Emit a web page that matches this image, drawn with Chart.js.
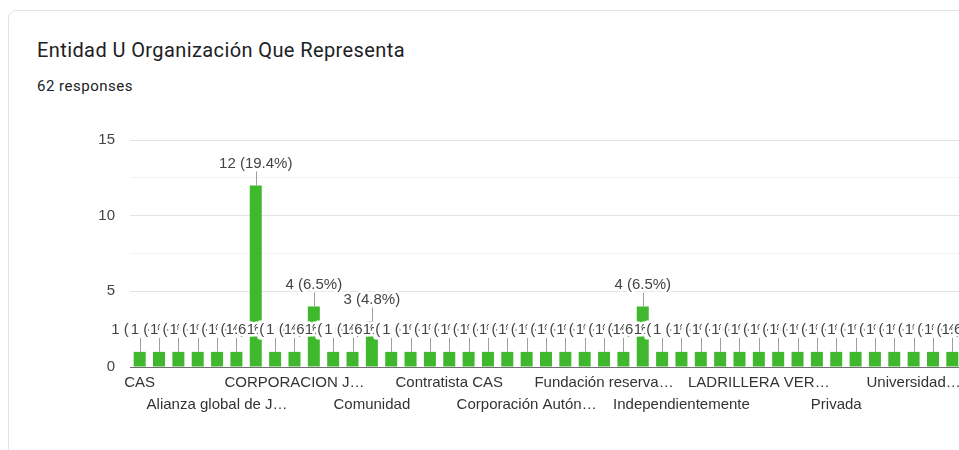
<!DOCTYPE html>
<html>
<head>
<meta charset="utf-8">
<script src="https://cdn.jsdelivr.net/npm/chart.js@4.4.0/dist/chart.umd.min.js"></script>
<style>
  html, body { margin: 0; padding: 0; width: 959px; height: 450px; overflow: hidden; background: #fff; }
  #card { position: absolute; left: 8px; top: 10px; width: 1000px; height: 500px; border: 1px solid #e3e3e3; border-radius: 8px; box-sizing: border-box; }
  #title { position: absolute; left: 37px; top: 38px; line-height: 24px; font-family: Roboto, "Noto Sans", sans-serif; font-size: 20px; letter-spacing: 0.4px; color: #202124; white-space: nowrap; }
  #sub { position: absolute; left: 37px; top: 76px; line-height: 20px; font-family: Roboto, "Noto Sans", sans-serif; font-size: 15px; letter-spacing: 0.5px; color: #202124; white-space: nowrap; }
  #wrap { position: absolute; left: 0; top: 0; width: 962px; height: 450px; }
</style>
</head>
<body>
<div id="card"></div>
<div id="title">Entidad U Organización Que Representa</div>
<div id="sub">62 responses</div>
<div id="wrap"><canvas id="c" width="962" height="450"></canvas></div>
<script>
// Category labels (only every 4th label is readable in the reference; others left blank)
const categories = [
  'CAS', '', '', '',
  'Alianza global de J…', '', '', '',
  'CORPORACION J…', '', '', '',
  'Comunidad', '', '', '',
  'Contratista CAS', '', '', '',
  'Corporación Autón…', '', '', '',
  'Fundación reserva…', '', '', '',
  'Independientemente', '', '', '',
  'LADRILLERA VER…', '', '', '',
  'Privada', '', '', '',
  'Universidad…', '', ''
];
// Response counts per category
const counts = [
  1, 1, 1, 1, 1, 1, 12, 1, 1, 4,
  1, 1, 3, 1, 1, 1, 1, 1, 1, 1,
  1, 1, 1, 1, 1, 1, 4, 1, 1, 1,
  1, 1, 1, 1, 1, 1, 1, 1, 1, 1,
  1, 1, 1
];
const totalResponses = 62;
const yTickValues = [0, 5, 10, 15];

const LABEL_FONT = '"Liberation Sans", Arial, sans-serif';

const annotations = {
  id: 'annotations',
  afterDatasetsDraw(chart) {
    const ctx = chart.ctx;
    const meta = chart.getDatasetMeta(0);
    ctx.save();
    ctx.strokeStyle = '#9e9e9e';
    ctx.lineWidth = 1;
    meta.data.forEach((bar) => {
      const x = Math.round(bar.x) + 0.5;
      ctx.beginPath();
      ctx.moveTo(x, bar.y);
      ctx.lineTo(x, bar.y - 14);
      ctx.stroke();
    });
    ctx.font = '15px ' + LABEL_FONT;
    ctx.textAlign = 'center';
    ctx.textBaseline = 'middle';
    ctx.lineJoin = 'round';
    meta.data.forEach((bar, i) => {
      const v = counts[i];
      const txt = v + ' (' + (v / totalResponses * 100).toFixed(1) + '%)';
      const y = bar.y - 22;
      ctx.strokeStyle = '#fff';
      ctx.lineWidth = 5;
      ctx.strokeText(txt, bar.x, y);
      ctx.fillStyle = '#444';
      ctx.fillText(txt, bar.x, y);
    });
    ctx.restore();
  }
};

new Chart(document.getElementById('c'), {
  type: 'bar',
  data: {
    labels: categories,
    datasets: [{
      data: counts,
      backgroundColor: '#40b82e',
      borderWidth: 0,
      barPercentage: 0.62,
      categoryPercentage: 1.0
    }]
  },
  options: {
    responsive: false,
    animation: false,
    devicePixelRatio: 1,
    layout: { padding: { top: 140, left: 0, right: 0, bottom: 0 } },
    plugins: { legend: { display: false }, tooltip: { enabled: false } },
    scales: {
      x: {
        offset: true,
        grid: { display: false, drawTicks: false },
        border: { display: false },
        ticks: {
          autoSkip: false,
          maxRotation: 0,
          minRotation: 0,
          padding: 5,
          color: '#333',
          font: { family: LABEL_FONT, size: 15, lineHeight: 22 / 15 },
          callback: (v, i) => {
            if (i % 4 !== 0) return '';
            const l = categories[i];
            return (i / 4) % 2 === 1 ? ['', l] : l;
          }
        },
        afterFit: (s) => { s.height = 83; }
      },
      y: {
        min: 0,
        max: 15,
        border: { display: false },
        grid: {
          drawTicks: false,
          color: (c) => c.tick.value === 0 ? '#6e6e6e' : (c.tick.value % 5 === 0 ? '#e4e4e4' : '#f2f2f2'),
          lineWidth: 1
        },
        ticks: {
          stepSize: 2.5,
          padding: 15,
          color: '#444',
          font: { family: LABEL_FONT, size: 15 },
          callback: (v) => yTickValues.includes(v) ? String(v) : ''
        },
        afterFit: (s) => { s.width = 130; }
      }
    }
  },
  plugins: [annotations]
});
</script>
</body>
</html>
